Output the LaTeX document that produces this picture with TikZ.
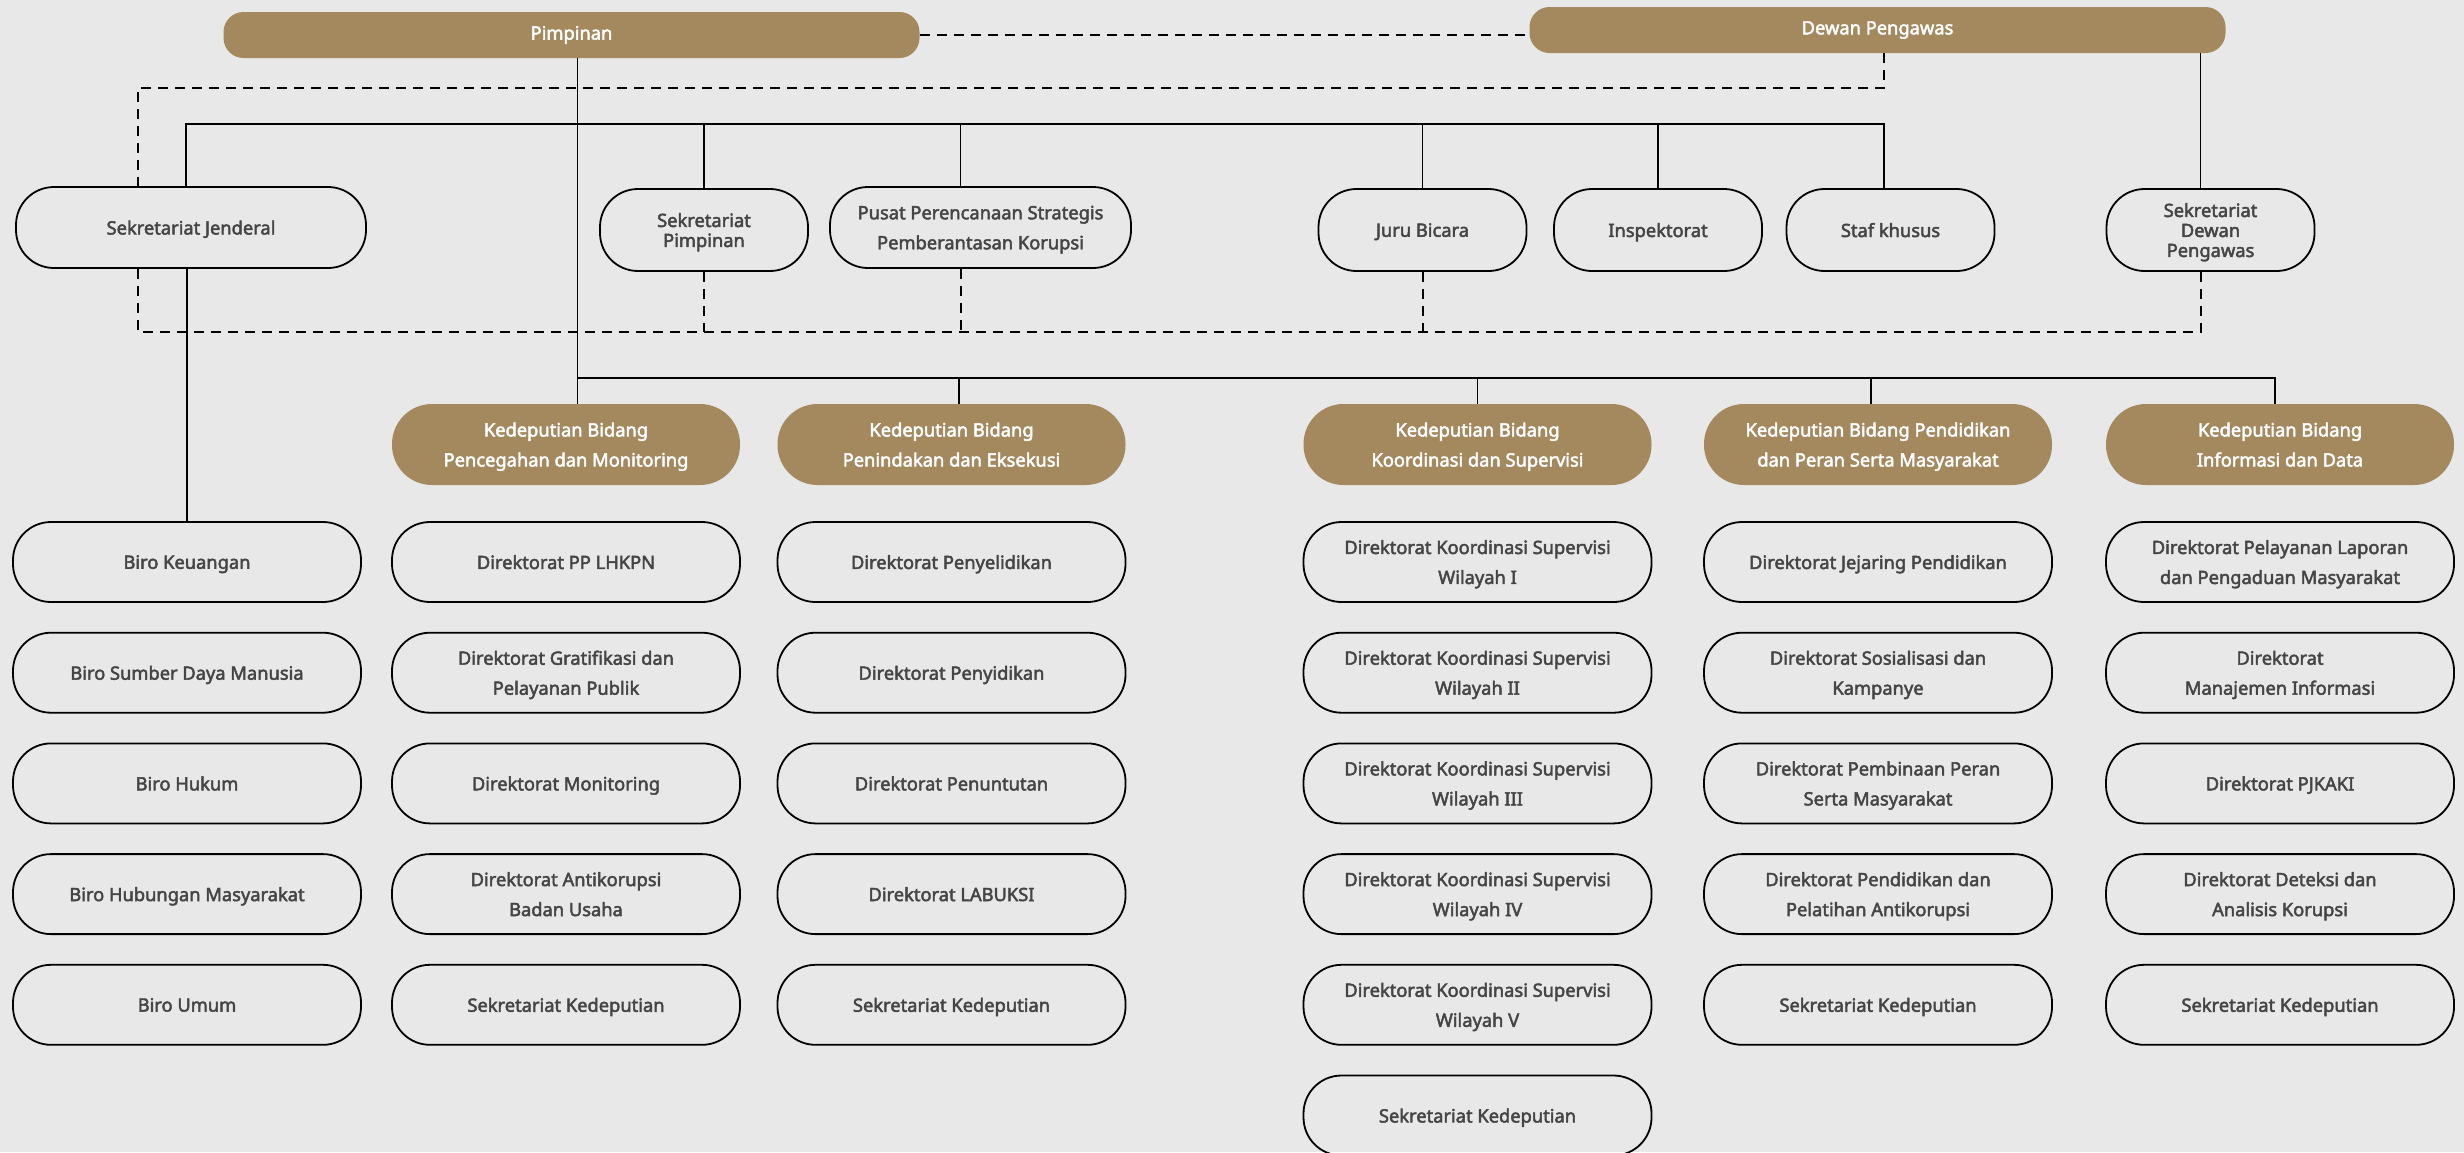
\documentclass[tikz,border=0pt]{standalone}
\usepackage{fontspec}
\setmainfont{Noto Sans}[FakeBold=2.5]
\definecolor{kpkbrown}{HTML}{A5895E}
\definecolor{kpkbg}{HTML}{E8E8E8}
\definecolor{kpktext}{HTML}{454545}
\tikzset{
  unit/.style={draw=black, line width=1.8pt, rounded corners=38pt, inner sep=0pt,
    minimum width=348pt, minimum height=80pt, align=center, text=kpktext,
    text depth=-4pt, font=\fontsize{18.3}{30}\selectfont},
  smallunit/.style={unit, minimum width=208pt, minimum height=82pt,
    font=\fontsize{18.3}{20}\selectfont},
  deputi/.style={fill=kpkbrown, rounded corners=40pt, inner sep=0pt,
    minimum width=348pt, minimum height=81pt, align=center, text=white,
    text depth=-4pt, font=\fontsize{18.3}{30}\selectfont},
  lead/.style={fill=kpkbrown, rounded corners=20pt, inner sep=0pt,
    minimum width=696pt, minimum height=46pt, text=white,
    font=\fontsize{18.3}{22}\selectfont},
  bus/.style={line width=1.8pt},
  link/.style={line width=2pt, dash pattern=on 10pt off 7pt}
}
\begin{document}
\begin{tikzpicture}[x=1pt,y=-1pt]
        \fill[kpkbg] (0,0) rectangle (2464,1152);
        \useasboundingbox (0,0) rectangle (2464,1152);
        % pimpinan dan dewan pengawas
        \node[lead] (pim) at (571.5,35) {Pimpinan};
        \node[lead] (dewan) at (1877.5,30) {Dewan Pengawas};
        % unit di bawah pimpinan
        \node[unit, minimum width=350pt, minimum height=81pt] (sekjen) at (191,227.5) {Sekretariat Jenderal};
        \node[smallunit] (sekpim) at (704,230) {Sekretariat\\Pimpinan};
        \node[unit, minimum width=301pt, minimum height=81pt] (pusat) at (980.5,227.5) {Pusat Perencanaan Strategis\\Pemberantasan Korupsi};
        \node[smallunit] (jubir) at (1422.5,230) {Juru Bicara};
        \node[smallunit] (insp) at (1658,230) {Inspektorat};
        \node[smallunit] (staf) at (1890.5,230) {Staf khusus};
        \node[smallunit] (sekdewas) at (2210.5,230) {Sekretariat\\Dewan\\Pengawas};
        % kedeputian
        \node[deputi] (kpm) at (566,444.5) {Kedeputian Bidang\\Pencegahan dan Monitoring};
        \node[deputi] (kpe) at (951.5,444.5) {Kedeputian Bidang\\Penindakan dan Eksekusi};
        \node[deputi] (kks) at (1477.5,444.5) {Kedeputian Bidang\\Koordinasi dan Supervisi};
        \node[deputi] (kpp) at (1878,444.5) {Kedeputian Bidang Pendidikan\\dan Peran Serta Masyarakat};
        \node[deputi] (kid) at (2280,444.5) {Kedeputian Bidang\\Informasi dan Data};
        % biro dan direktorat
        \foreach \t [count=\i] in {Biro Keuangan, Biro Sumber Daya Manusia, Biro Hukum,
            Biro Hubungan Masyarakat, Biro Umum}
            \node[unit] (biro\i) at (187,{562+(\i-1)*110.7}) {\t};
        \foreach \t [count=\i] in {Direktorat PP LHKPN, {Direktorat Gratifikasi dan\\Pelayanan Publik},
            Direktorat Monitoring, {Direktorat Antikorupsi\\Badan Usaha}, Sekretariat Kedeputian}
            \node[unit] (pm\i) at (566,{562+(\i-1)*110.7}) {\t};
        \foreach \t [count=\i] in {Direktorat Penyelidikan, Direktorat Penyidikan, Direktorat Penuntutan,
            Direktorat LABUKSI, Sekretariat Kedeputian}
            \node[unit] (pe\i) at (951.5,{562+(\i-1)*110.7}) {\t};
        \foreach \t [count=\i] in {{Direktorat Koordinasi Supervisi\\Wilayah I}, {Direktorat Koordinasi Supervisi\\Wilayah II},
            {Direktorat Koordinasi Supervisi\\Wilayah III}, {Direktorat Koordinasi Supervisi\\Wilayah IV},
            {Direktorat Koordinasi Supervisi\\Wilayah V}, Sekretariat Kedeputian}
            \node[unit] (ks\i) at (1477.5,{562+(\i-1)*110.7}) {\t};
        \foreach \t [count=\i] in {Direktorat Jejaring Pendidikan, {Direktorat Sosialisasi dan\\Kampanye},
            {Direktorat Pembinaan Peran\\Serta Masyarakat}, {Direktorat Pendidikan dan\\Pelatihan Antikorupsi},
            Sekretariat Kedeputian}
            \node[unit] (pp\i) at (1878,{562+(\i-1)*110.7}) {\t};
        \foreach \t [count=\i] in {{Direktorat Pelayanan Laporan\\dan Pengaduan Masyarakat}, {Direktorat\\Manajemen Informasi},
            Direktorat PJKAKI, {Direktorat Deteksi dan\\Analisis Korupsi}, Sekretariat Kedeputian}
            \node[unit] (id\i) at (2280,{562+(\i-1)*110.7}) {\t};
        % garis jalur
        \coordinate (topbus) at (0,124);
        \coordinate (lowbus) at (0,378);
        \coordinate (dashtop) at (0,88);
        \coordinate (dashlow) at (0,332);
        % garis komando
        \draw[bus] ([xshift=-5pt]sekjen.north) |- ([xshift=-6.5pt]staf.north |- topbus) -- ([xshift=-6.5pt]staf.north);
        \foreach \n in {sekpim, jubir, insp}
            \draw[bus] (\n.north) -- (\n.north |- topbus);
        \draw[bus] ([xshift=-20pt]pusat.north) -- ([xshift=-20pt]pusat.north |- topbus);
        \draw[bus] ([xshift=6pt]pim.south) -- ([xshift=6pt]pim.south |- kpm.north);
        \draw[bus] ([xshift=6pt]pim.south |- lowbus) -| ([xshift=-5pt]kid.north);
        \draw[bus] ([xshift=7.5pt]kpe.north) -- ([xshift=7.5pt]kpe.north |- lowbus);
        \draw[bus] (kks.north) -- (kks.north |- lowbus);
        \draw[bus] ([xshift=-7pt]kpp.north) -- ([xshift=-7pt]kpp.north |- lowbus);
        \draw[bus] ([xshift=-10pt]sekdewas.north |- dewan.south) -- ([xshift=-10pt]sekdewas.north);
        \draw[bus] (sekjen.south -| biro1.north) -- (biro1.north);
        % garis koordinasi
        \draw[link] (pim.east) -- (pim.east -| dewan.west);
        \draw[link] ([xshift=-6.5pt]dewan.south -| staf.north) |- ([xshift=-53pt]sekjen.north |- dashtop) -- ([xshift=-53pt]sekjen.north);
        \draw[link] ([xshift=-53pt]sekjen.south) |- ([xshift=-10pt]sekdewas.south |- dashlow) -- ([xshift=-10pt]sekdewas.south);
        \foreach \n in {sekpim, jubir}
            \draw[link] (\n.south) -- (\n.south |- dashlow);
        \draw[link] ([xshift=-20pt]pusat.south) -- ([xshift=-20pt]pusat.south |- dashlow);
    \end{tikzpicture}
\end{document}
